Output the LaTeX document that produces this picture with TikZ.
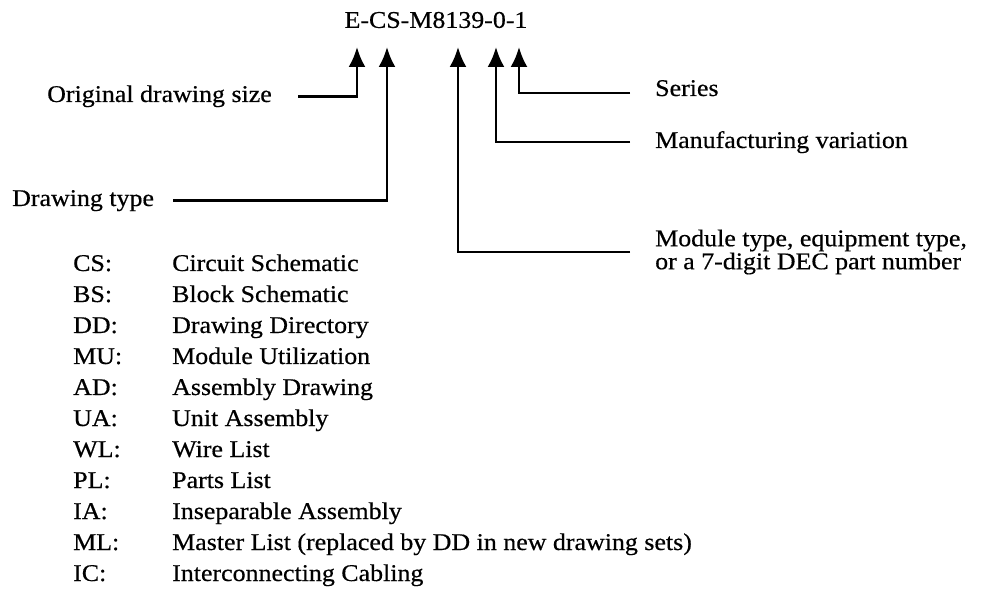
\documentclass[tikz,border=0pt]{standalone}
\usepackage{fontspec}
\setmainfont{Liberation Serif}[FakeStretch=1.08,FakeBold=0.5]
\usepackage{tikz}
\usetikzlibrary{arrows.meta}
\usetikzlibrary{calc}
\tikzset{tx/.style={font=\fontsize{24}{23}\selectfont, inner sep=0pt}}
\tikzset{ar/.style={line width=2.6pt, -{Latex[length=20pt,width=17pt]}}}

\begin{document}
\begin{tikzpicture}[x=1pt,y=-1pt]
    \useasboundingbox (0,0) rectangle (988,593);
    \node[tx] (code) at (436,20) {E-CS-M8139-0-1};
    \coordinate (tipE) at (357,47);
    \coordinate (tipCS) at (387,47);
    \coordinate (tipM) at (458,47);
    \coordinate (tipV) at (496,47);
    \coordinate (tipS) at (519,47);
    \node[tx, anchor=base east] (size) at (272,102) {Original drawing size};
    \node[tx, anchor=base west] (dtype) at (12,206) {Drawing type};
    \node[tx, anchor=base west] (series) at (655,96) {Series};
    \node[tx, anchor=base west] (mfg) at (655,148) {Manufacturing variation};
    \node[tx, anchor=west, align=left] (module) at (655,252) {Module type, equipment type,\\or a 7-digit DEC part number};
    \draw[ar] ([xshift=26pt]size.east) -| (tipE);
    \draw[ar] ([xshift=19pt]dtype.east) -| (tipCS);
    \draw[ar] ([xshift=-25pt]module.west) -| (tipM);
    \draw[ar] ([xshift=-25pt]mfg.west) -| (tipV);
    \draw[ar] ([xshift=-25pt,yshift=-5pt]series.west) -| (tipS);
    \foreach \c/\d [count=\i from 0] in {CS/Circuit Schematic, BS/Block Schematic,
        DD/Drawing Directory, MU/Module Utilization, AD/Assembly Drawing,
        UA/Unit Assembly, WL/Wire List, PL/Parts List, IA/Inseparable Assembly,
        ML/Master List (replaced by DD in new drawing sets), IC/Interconnecting Cabling}
    {
        \node[tx, anchor=base west] (c\i) at (73,{271+31*\i}) {\c:};
        \node[tx, anchor=base west] (d\i) at (172,{271+31*\i}) {\d};
    }
\end{tikzpicture}
\end{document}
